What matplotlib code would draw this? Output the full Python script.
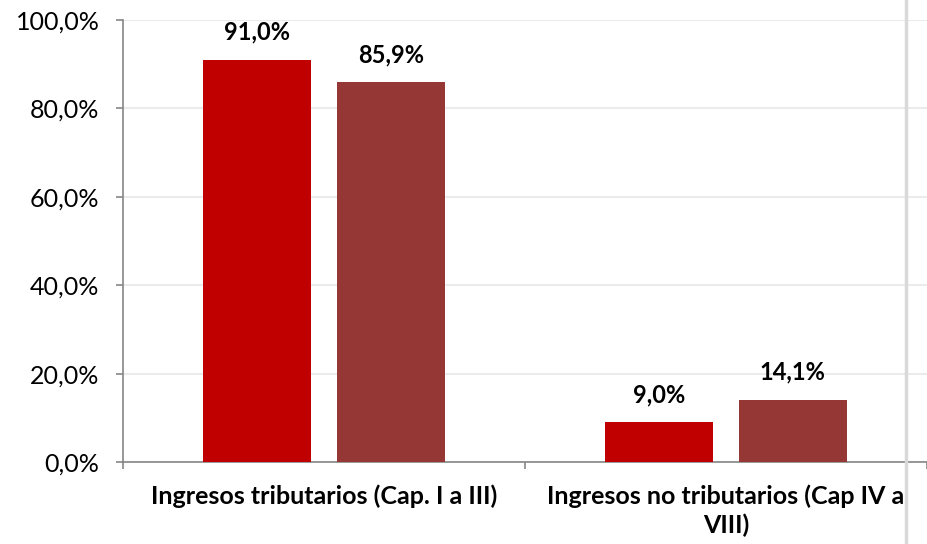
import matplotlib.pyplot as plt
from matplotlib.lines import Line2D

categories = ["Ingresos tributarios (Cap. I a III)", "Ingresos no tributarios (Cap IV a\nVIII)"]
serie_a = [91.0, 9.0]
serie_b = [85.9, 14.1]
y_ticks = [0, 20, 40, 60, 80, 100]

plt.rcParams['font.family'] = ['Lato', 'DejaVu Sans']

fig = plt.figure(figsize=(9.27, 5.44), dpi=100)
ax = fig.add_axes([123 / 927, 82 / 544, (927 - 123) / 927, 442 / 544])

x = list(range(len(categories)))
width = 0.268
off = 0.166
bars_a = ax.bar([i - off for i in x], serie_a, width, color="#C00000", zorder=3)
bars_b = ax.bar([i + off for i in x], serie_b, width, color="#953735", zorder=3)

for bars, vals in ((bars_a, serie_a), (bars_b, serie_b)):
    for b, v in zip(bars, vals):
        ax.annotate(f"{v:.1f}%".replace(".", ","), (b.get_x() + b.get_width() / 2, v),
                    xytext=(0, 20), textcoords="offset points", ha="center", va="center",
                    fontsize=17, fontweight="bold")

ax.set_xlim(-0.5, -0.5 + 804 / 405)
ax.set_ylim(0, 100)
ax.set_yticks(y_ticks)
ax.set_yticklabels([f"{t:.1f}%".replace(".", ",") for t in y_ticks], fontsize=18)
ax.yaxis.grid(True, color="#EBEBEB", linewidth=1.5, zorder=0)

ax.set_xticks(x)
ax.set_xticklabels(categories, fontsize=18, fontweight="bold", linespacing=1.3)
ax.set_xticks([-0.5, 0.5, 1.5], minor=True)
ax.tick_params(axis="x", which="major", length=0, pad=16)
ax.tick_params(axis="x", which="minor", length=5, color="#868686", width=1.2)
ax.tick_params(axis="y", length=5, color="#868686", width=1.2, pad=12)

for s in ("top", "right"):
    ax.spines[s].set_visible(False)
for s in ("left", "bottom"):
    ax.spines[s].set_color("#868686")
    ax.spines[s].set_linewidth(1.2)

fig.add_artist(Line2D([906 / 927, 906 / 927], [0, 1], color="#D9D9D9", linewidth=2.5,
                      transform=fig.transFigure, zorder=5))

fig.savefig("out.png")
